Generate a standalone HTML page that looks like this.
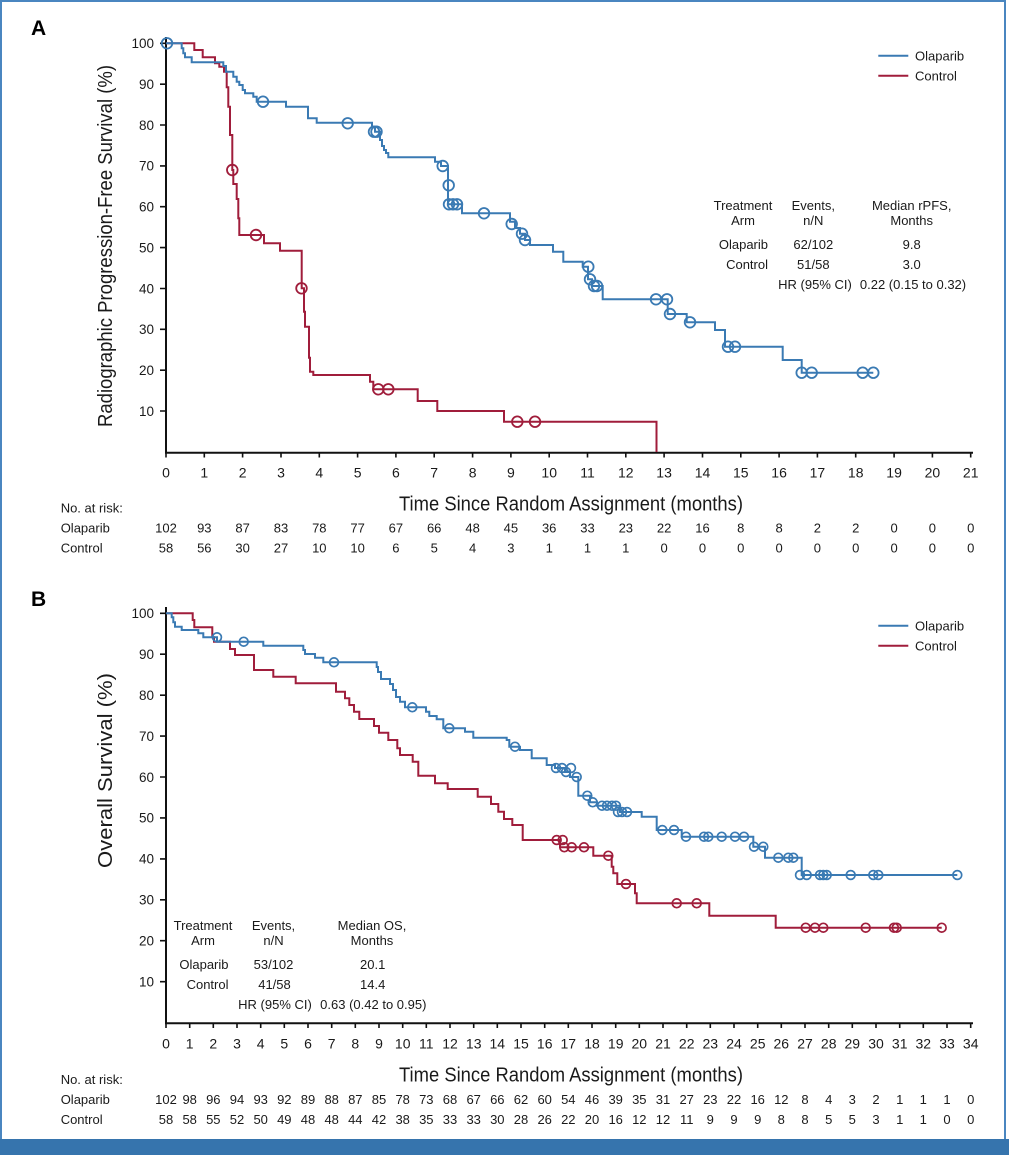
<!DOCTYPE html>
<html><head><meta charset="utf-8"><style>
html,body{margin:0;padding:0;background:#fff;}
svg{display:block;}
text{font-family:"Liberation Sans",Arial,sans-serif;fill:#1a1a1a;}
</style></head><body>
<svg width="1009" height="1155" viewBox="0 0 1009 1155" xmlns="http://www.w3.org/2000/svg">
<rect x="0" y="0" width="1009" height="1155" fill="#fff"/>
<rect x="1" y="1" width="1004" height="1140" fill="none" stroke="#4a86c0" stroke-width="2"/>
<rect x="0" y="1139" width="1009" height="16" fill="#3674ad"/>

<!-- ================= PANEL A ================= -->
<text x="31" y="35" font-size="21" font-weight="bold" style="fill:#000">A</text>

<!-- axes -->
<path d="M166 37 V452.7 H973" fill="none" stroke="#111" stroke-width="2"/>
<path d="M160 43.3H166M160 84.2H166M160 125H166M160 165.9H166M160 206.7H166M160 247.6H166M160 288.5H166M160 329.3H166M160 370.2H166M160 411H166" stroke="#111" stroke-width="1.6"/>
<path d="M166 452.7V457.5M204.3 452.7V457.5M242.6 452.7V457.5M281 452.7V457.5M319.3 452.7V457.5M357.6 452.7V457.5M395.9 452.7V457.5M434.2 452.7V457.5M472.6 452.7V457.5M510.9 452.7V457.5M549.2 452.7V457.5M587.5 452.7V457.5M625.8 452.7V457.5M664.1 452.7V457.5M702.5 452.7V457.5M740.8 452.7V457.5M779.1 452.7V457.5M817.4 452.7V457.5M855.7 452.7V457.5M894.1 452.7V457.5M932.4 452.7V457.5M970.7 452.7V457.5" stroke="#111" stroke-width="1.6"/>

<g font-size="13.5" text-anchor="end">
<text x="154" y="48.1">100</text><text x="154" y="89">90</text><text x="154" y="129.8">80</text><text x="154" y="170.7">70</text><text x="154" y="211.5">60</text><text x="154" y="252.4">50</text><text x="154" y="293.3">40</text><text x="154" y="334.1">30</text><text x="154" y="375">20</text><text x="154" y="415.8">10</text>
</g>
<g font-size="14" text-anchor="middle">
<text x="166" y="477.3">0</text><text x="204.3" y="477.3">1</text><text x="242.6" y="477.3">2</text><text x="281" y="477.3">3</text><text x="319.3" y="477.3">4</text><text x="357.6" y="477.3">5</text><text x="395.9" y="477.3">6</text><text x="434.2" y="477.3">7</text><text x="472.6" y="477.3">8</text><text x="510.9" y="477.3">9</text><text x="549.2" y="477.3">10</text><text x="587.5" y="477.3">11</text><text x="625.8" y="477.3">12</text><text x="664.1" y="477.3">13</text><text x="702.5" y="477.3">14</text><text x="740.8" y="477.3">15</text><text x="779.1" y="477.3">16</text><text x="817.4" y="477.3">17</text><text x="855.7" y="477.3">18</text><text x="894.1" y="477.3">19</text><text x="932.4" y="477.3">20</text><text x="970.7" y="477.3">21</text>
</g>
<text x="399" y="510.7" font-size="20" textLength="344" lengthAdjust="spacingAndGlyphs">Time Since Random Assignment (months)</text>
<text transform="translate(112,246) rotate(-90)" x="0" y="0" font-size="20" text-anchor="middle" textLength="362" lengthAdjust="spacingAndGlyphs">Radiographic Progression-Free Survival (%)</text>

<!-- legend A -->
<path d="M878.3 55.7H908.3" stroke="#3a7ab3" stroke-width="2"/>
<path d="M878.3 75.7H908.3" stroke="#a01d3b" stroke-width="2"/>
<text x="915" y="60.5" font-size="13">Olaparib</text>
<text x="915" y="80.3" font-size="13">Control</text>

<!-- table A -->
<g font-size="13" text-anchor="middle">
<text x="743" y="210">Treatment</text><text x="743" y="225">Arm</text>
<text x="813.3" y="210">Events,</text><text x="813.3" y="225">n/N</text>
<text x="911.7" y="210">Median rPFS,</text><text x="911.7" y="225">Months</text>
<text x="813.3" y="249">62/102</text><text x="911.7" y="249">9.8</text>
<text x="813.3" y="269">51/58</text><text x="911.7" y="269">3.0</text>
<text x="815" y="289">HR (95% CI)</text><text x="913" y="289">0.22 (0.15 to 0.32)</text>
</g>
<g font-size="13" text-anchor="end">
<text x="768" y="249">Olaparib</text><text x="768" y="269">Control</text>
</g>

<!-- curves A -->
<path fill="none" stroke="#a01d3b" stroke-width="2" d="M166,43.3 H194.3 V50 H202.7 V57.3 H215 V63.3 H219.3 V66.7 H224 V71.7 H226.7 V87.3 H228.3 V106.7 H230 V135 H232.3 V170 H233.3 V184 H236.7 V199 H238.3 V218.3 H239.3 V235 H264 V243.3 H280 V250.7 H301.7 V288.3 H304 V311.7 H305 V326.7 H309 V357.7 H310 V371.7 H313.3 V375 H370 V381.7 H373.3 V389.3 H417.7 V401 H437.3 V411 H504 V421.7 H656.5 V452"/>
<g fill="none" stroke="#a01d3b" stroke-width="1.8">
<circle cx="232.3" cy="170" r="5.3"/><circle cx="256" cy="235" r="5.3"/><circle cx="301.5" cy="288.3" r="5.3"/><circle cx="378.3" cy="389.3" r="5.3"/><circle cx="388.3" cy="389.3" r="5.3"/><circle cx="517.3" cy="421.7" r="5.3"/><circle cx="535" cy="421.7" r="5.3"/>
</g>
<path fill="none" stroke="#3a7ab3" stroke-width="2" d="M166,43.3 H181.7 V48.3 H183.3 V53.3 H185 V57.3 H191.7 V62.3 H223.3 V66 H226 V71.7 H233.3 V76.7 H236.7 V81.7 H239.3 V85 H242.7 V90 H245 V93.3 H253.3 V96.7 H256.7 V101.7 H286 V106.7 H308 V118.3 H316.7 V122.7 H372 V127 H375 V131.7 H380 V140 H382 V146 H384 V150 H386 V153 H388.3 V157.3 H435 V161.7 H441 V166 H448 V204.3 H462 V213.3 H510 V221.7 H515 V228 H520 V233.7 H525 V240 H530 V245 H553 V251.7 H563.3 V261.7 H582.7 V266.7 H588 V279.3 H592 V286 H602.7 V299.3 H667.7 V314 H686.7 V322.3 H715 V330 H725 V346.7 H782.7 V360 H801.7 V372.7 H873.3"/>
<g fill="none" stroke="#3a7ab3" stroke-width="1.8">
<circle cx="167" cy="43.3" r="5.3"/><circle cx="263" cy="101.7" r="5.3"/><circle cx="347.7" cy="123.3" r="5.3"/><circle cx="374" cy="131.7" r="5.3"/><circle cx="376.5" cy="131.7" r="5.3"/><circle cx="442.7" cy="166" r="5.3"/><circle cx="448.7" cy="185.3" r="5.3"/><circle cx="449" cy="204.3" r="5.3"/><circle cx="453" cy="204.3" r="5.3"/><circle cx="457" cy="204.3" r="5.3"/><circle cx="484" cy="213.3" r="5.3"/><circle cx="511.7" cy="224" r="5.3"/><circle cx="522" cy="233.7" r="5.3"/><circle cx="525" cy="240" r="5.3"/><circle cx="588.3" cy="266.7" r="5.3"/><circle cx="590" cy="279.3" r="5.3"/><circle cx="594" cy="286" r="5.3"/><circle cx="597" cy="286" r="5.3"/><circle cx="656" cy="299.3" r="5.3"/><circle cx="667" cy="299.3" r="5.3"/><circle cx="670" cy="314" r="5.3"/><circle cx="690" cy="322.3" r="5.3"/><circle cx="728" cy="346.7" r="5.3"/><circle cx="735" cy="346.7" r="5.3"/><circle cx="801.7" cy="372.7" r="5.3"/><circle cx="811.7" cy="372.7" r="5.3"/><circle cx="862.7" cy="372.7" r="5.3"/><circle cx="873.3" cy="372.7" r="5.3"/>
</g>

<!-- risk table A -->
<g font-size="13">
<text x="60.7" y="512.7">No. at risk:</text>
<text x="60.7" y="532.7">Olaparib</text>
<text x="60.7" y="552.7">Control</text>
</g>
<g font-size="13" text-anchor="middle">
<text x="166" y="532.7">102</text><text x="204.3" y="532.7">93</text><text x="242.6" y="532.7">87</text><text x="281" y="532.7">83</text><text x="319.3" y="532.7">78</text><text x="357.6" y="532.7">77</text><text x="395.9" y="532.7">67</text><text x="434.2" y="532.7">66</text><text x="472.6" y="532.7">48</text><text x="510.9" y="532.7">45</text><text x="549.2" y="532.7">36</text><text x="587.5" y="532.7">33</text><text x="625.8" y="532.7">23</text><text x="664.1" y="532.7">22</text><text x="702.5" y="532.7">16</text><text x="740.8" y="532.7">8</text><text x="779.1" y="532.7">8</text><text x="817.4" y="532.7">2</text><text x="855.7" y="532.7">2</text><text x="894.1" y="532.7">0</text><text x="932.4" y="532.7">0</text><text x="970.7" y="532.7">0</text>
<text x="166" y="552.7">58</text><text x="204.3" y="552.7">56</text><text x="242.6" y="552.7">30</text><text x="281" y="552.7">27</text><text x="319.3" y="552.7">10</text><text x="357.6" y="552.7">10</text><text x="395.9" y="552.7">6</text><text x="434.2" y="552.7">5</text><text x="472.6" y="552.7">4</text><text x="510.9" y="552.7">3</text><text x="549.2" y="552.7">1</text><text x="587.5" y="552.7">1</text><text x="625.8" y="552.7">1</text><text x="664.1" y="552.7">0</text><text x="702.5" y="552.7">0</text><text x="740.8" y="552.7">0</text><text x="779.1" y="552.7">0</text><text x="817.4" y="552.7">0</text><text x="855.7" y="552.7">0</text><text x="894.1" y="552.7">0</text><text x="932.4" y="552.7">0</text><text x="970.7" y="552.7">0</text>
</g>

<!-- ================= PANEL B ================= -->
<text x="31" y="606" font-size="21" font-weight="bold" style="fill:#000">B</text>

<path d="M166 607 V1023.3 H973" fill="none" stroke="#111" stroke-width="2"/>
<path d="M160 613.3H166M160 654.2H166M160 695.2H166M160 736.1H166M160 777H166M160 817.9H166M160 858.9H166M160 899.8H166M160 940.7H166M160 981.7H166" stroke="#111" stroke-width="1.6"/>
<path d="M166 1023.3V1028M189.7 1023.3V1028M213.3 1023.3V1028M237 1023.3V1028M260.7 1023.3V1028M284.3 1023.3V1028M308 1023.3V1028M331.7 1023.3V1028M355.3 1023.3V1028M379 1023.3V1028M402.7 1023.3V1028M426.3 1023.3V1028M450 1023.3V1028M473.7 1023.3V1028M497.3 1023.3V1028M521 1023.3V1028M544.7 1023.3V1028M568.3 1023.3V1028M592 1023.3V1028M615.7 1023.3V1028M639.3 1023.3V1028M663 1023.3V1028M686.7 1023.3V1028M710.3 1023.3V1028M734 1023.3V1028M757.7 1023.3V1028M781.3 1023.3V1028M805 1023.3V1028M828.7 1023.3V1028M852.3 1023.3V1028M876 1023.3V1028M899.7 1023.3V1028M923.3 1023.3V1028M947 1023.3V1028M970.7 1023.3V1028" stroke="#111" stroke-width="1.6"/>

<g font-size="13.5" text-anchor="end">
<text x="154" y="618.1">100</text><text x="154" y="659">90</text><text x="154" y="700">80</text><text x="154" y="740.9">70</text><text x="154" y="781.8">60</text><text x="154" y="822.7">50</text><text x="154" y="863.7">40</text><text x="154" y="904.6">30</text><text x="154" y="945.5">20</text><text x="154" y="986.5">10</text>
</g>
<g font-size="14" text-anchor="middle">
<text x="166" y="1048.3">0</text><text x="189.7" y="1048.3">1</text><text x="213.3" y="1048.3">2</text><text x="237" y="1048.3">3</text><text x="260.7" y="1048.3">4</text><text x="284.3" y="1048.3">5</text><text x="308" y="1048.3">6</text><text x="331.7" y="1048.3">7</text><text x="355.3" y="1048.3">8</text><text x="379" y="1048.3">9</text><text x="402.7" y="1048.3">10</text><text x="426.3" y="1048.3">11</text><text x="450" y="1048.3">12</text><text x="473.7" y="1048.3">13</text><text x="497.3" y="1048.3">14</text><text x="521" y="1048.3">15</text><text x="544.7" y="1048.3">16</text><text x="568.3" y="1048.3">17</text><text x="592" y="1048.3">18</text><text x="615.7" y="1048.3">19</text><text x="639.3" y="1048.3">20</text><text x="663" y="1048.3">21</text><text x="686.7" y="1048.3">22</text><text x="710.3" y="1048.3">23</text><text x="734" y="1048.3">24</text><text x="757.7" y="1048.3">25</text><text x="781.3" y="1048.3">26</text><text x="805" y="1048.3">27</text><text x="828.7" y="1048.3">28</text><text x="852.3" y="1048.3">29</text><text x="876" y="1048.3">30</text><text x="899.7" y="1048.3">31</text><text x="923.3" y="1048.3">32</text><text x="947" y="1048.3">33</text><text x="970.7" y="1048.3">34</text>
</g>
<text x="399" y="1081.7" font-size="20" textLength="344" lengthAdjust="spacingAndGlyphs">Time Since Random Assignment (months)</text>
<text transform="translate(112,770.5) rotate(-90)" x="0" y="0" font-size="20" text-anchor="middle" textLength="195" lengthAdjust="spacingAndGlyphs">Overall Survival (%)</text>

<!-- legend B -->
<path d="M878.3 625.7H908.3" stroke="#3a7ab3" stroke-width="2"/>
<path d="M878.3 645.7H908.3" stroke="#a01d3b" stroke-width="2"/>
<text x="915" y="630.5" font-size="13">Olaparib</text>
<text x="915" y="650.3" font-size="13">Control</text>

<!-- table B -->
<g font-size="13" text-anchor="middle">
<text x="203" y="930">Treatment</text><text x="203" y="945">Arm</text>
<text x="273.5" y="930">Events,</text><text x="273.5" y="945">n/N</text>
<text x="372" y="930">Median OS,</text><text x="372" y="945">Months</text>
<text x="273.5" y="969">53/102</text><text x="372.7" y="969">20.1</text>
<text x="274.5" y="989">41/58</text><text x="372.7" y="989">14.4</text>
<text x="275" y="1009">HR (95% CI)</text><text x="373.3" y="1009">0.63 (0.42 to 0.95)</text>
</g>
<g font-size="13" text-anchor="end">
<text x="228.5" y="969">Olaparib</text><text x="228.5" y="989">Control</text>
</g>

<!-- curves B -->
<path fill="none" stroke="#a01d3b" stroke-width="2" d="M166,613.3 H192.7 V620 H194.3 V627.3 H212.3 V637.3 H214 V641.7 H230 V649 H235 V655 H254 V670 H273.3 V676.7 H295.7 V683.3 H336 V691.7 H345 V698.3 H349.3 V705 H354 V711.7 H359.3 V719 H374 V726 H379 V732.7 H388.3 V740 H397.3 V748.3 H400 V755 H412.7 V761.7 H418.3 V775.7 H435 V783.3 H447.7 V789 H477.7 V796.7 H491 V804 H498.3 V811.7 H504 V819 H512.3 V825 H522.7 V840 H560 V847.3 H593.3 V855.7 H611.7 V866.7 H613.3 V873.3 H617.3 V884 H635 V893.3 H636.7 V903.3 H709.3 V915.7 H775.7 V927.7 H941.7"/>
<g fill="none" stroke="#a01d3b" stroke-width="1.7">
<circle cx="556.7" cy="840" r="4.4"/><circle cx="562.7" cy="840" r="4.4"/><circle cx="564.3" cy="847.3" r="4.4"/><circle cx="571.7" cy="847.3" r="4.4"/><circle cx="584" cy="847.3" r="4.4"/><circle cx="608.3" cy="855.7" r="4.4"/><circle cx="626" cy="884" r="4.4"/><circle cx="676.7" cy="903.3" r="4.4"/><circle cx="696.7" cy="903.3" r="4.4"/><circle cx="805.7" cy="927.7" r="4.4"/><circle cx="815" cy="927.7" r="4.4"/><circle cx="823.3" cy="927.7" r="4.4"/><circle cx="865.7" cy="927.7" r="4.4"/><circle cx="894" cy="927.7" r="4.4"/><circle cx="896.7" cy="927.7" r="4.4"/><circle cx="941.7" cy="927.7" r="4.4"/>
</g>
<path fill="none" stroke="#3a7ab3" stroke-width="2" d="M166,613.3 H171.7 V617.3 H173.3 V622.3 H175 V626.7 H181.7 V630 H198.3 V633.3 H203.3 V637.3 H217 V641.7 H263.3 V645.7 H303.3 V650 H305 V654 H315 V657.7 H323.3 V662.3 H376.7 V667 H378 V672 H381 V679 H390 V684 H393 V690 H396 V697 H400 V701.7 H405 V707.3 H426 V711.7 H429.3 V716 H436.7 V719.3 H443.3 V728.3 H465 V731.7 H473.3 V737.7 H506.7 V740 H509.3 V746.7 H520 V750 H531.7 V758.3 H546.7 V765 H555 V768 H565 V772 H570 V777 H578.3 V795.7 H590 V802.3 H597 V805.7 H620 V812 H641.7 V816.7 H656.7 V830 H681.7 V836.7 H753.3 V846.7 H765 V857.7 H801.7 V875 H957.3"/>
<g fill="none" stroke="#3a7ab3" stroke-width="1.7">
<circle cx="217" cy="637.3" r="4.4"/><circle cx="243.7" cy="641.7" r="4.4"/><circle cx="334" cy="662.3" r="4.4"/><circle cx="412.3" cy="707.3" r="4.4"/><circle cx="449.3" cy="728.3" r="4.4"/><circle cx="515" cy="746.7" r="4.4"/><circle cx="556" cy="768" r="4.4"/><circle cx="562" cy="768" r="4.4"/><circle cx="566" cy="772" r="4.4"/><circle cx="571" cy="768" r="4.4"/><circle cx="576.7" cy="777" r="4.4"/><circle cx="587.3" cy="795.7" r="4.4"/><circle cx="592.7" cy="802.3" r="4.4"/><circle cx="602" cy="805.7" r="4.4"/><circle cx="607" cy="805.7" r="4.4"/><circle cx="612" cy="805.7" r="4.4"/><circle cx="616" cy="805.7" r="4.4"/><circle cx="618" cy="812" r="4.4"/><circle cx="622" cy="812" r="4.4"/><circle cx="627" cy="812" r="4.4"/><circle cx="662.3" cy="830" r="4.4"/><circle cx="674" cy="830" r="4.4"/><circle cx="686" cy="836.7" r="4.4"/><circle cx="704" cy="836.7" r="4.4"/><circle cx="708.3" cy="836.7" r="4.4"/><circle cx="721.7" cy="836.7" r="4.4"/><circle cx="735" cy="836.7" r="4.4"/><circle cx="744" cy="836.7" r="4.4"/><circle cx="754" cy="846.7" r="4.4"/><circle cx="763.3" cy="846.7" r="4.4"/><circle cx="778.3" cy="857.7" r="4.4"/><circle cx="788.3" cy="857.7" r="4.4"/><circle cx="793.3" cy="857.7" r="4.4"/><circle cx="800" cy="875" r="4.4"/><circle cx="806.7" cy="875" r="4.4"/><circle cx="820" cy="875" r="4.4"/><circle cx="823.3" cy="875" r="4.4"/><circle cx="826.7" cy="875" r="4.4"/><circle cx="850.7" cy="875" r="4.4"/><circle cx="873.3" cy="875" r="4.4"/><circle cx="878.3" cy="875" r="4.4"/><circle cx="957.3" cy="875" r="4.4"/>
</g>

<!-- risk table B -->
<g font-size="13">
<text x="60.7" y="1084">No. at risk:</text>
<text x="60.7" y="1104">Olaparib</text>
<text x="60.7" y="1124">Control</text>
</g>
<g font-size="13" text-anchor="middle">
<text x="166" y="1104">102</text><text x="189.7" y="1104">98</text><text x="213.3" y="1104">96</text><text x="237" y="1104">94</text><text x="260.7" y="1104">93</text><text x="284.3" y="1104">92</text><text x="308" y="1104">89</text><text x="331.7" y="1104">88</text><text x="355.3" y="1104">87</text><text x="379" y="1104">85</text><text x="402.7" y="1104">78</text><text x="426.3" y="1104">73</text><text x="450" y="1104">68</text><text x="473.7" y="1104">67</text><text x="497.3" y="1104">66</text><text x="521" y="1104">62</text><text x="544.7" y="1104">60</text><text x="568.3" y="1104">54</text><text x="592" y="1104">46</text><text x="615.7" y="1104">39</text><text x="639.3" y="1104">35</text><text x="663" y="1104">31</text><text x="686.7" y="1104">27</text><text x="710.3" y="1104">23</text><text x="734" y="1104">22</text><text x="757.7" y="1104">16</text><text x="781.3" y="1104">12</text><text x="805" y="1104">8</text><text x="828.7" y="1104">4</text><text x="852.3" y="1104">3</text><text x="876" y="1104">2</text><text x="899.7" y="1104">1</text><text x="923.3" y="1104">1</text><text x="947" y="1104">1</text><text x="970.7" y="1104">0</text>
<text x="166" y="1124">58</text><text x="189.7" y="1124">58</text><text x="213.3" y="1124">55</text><text x="237" y="1124">52</text><text x="260.7" y="1124">50</text><text x="284.3" y="1124">49</text><text x="308" y="1124">48</text><text x="331.7" y="1124">48</text><text x="355.3" y="1124">44</text><text x="379" y="1124">42</text><text x="402.7" y="1124">38</text><text x="426.3" y="1124">35</text><text x="450" y="1124">33</text><text x="473.7" y="1124">33</text><text x="497.3" y="1124">30</text><text x="521" y="1124">28</text><text x="544.7" y="1124">26</text><text x="568.3" y="1124">22</text><text x="592" y="1124">20</text><text x="615.7" y="1124">16</text><text x="639.3" y="1124">12</text><text x="663" y="1124">12</text><text x="686.7" y="1124">11</text><text x="710.3" y="1124">9</text><text x="734" y="1124">9</text><text x="757.7" y="1124">9</text><text x="781.3" y="1124">8</text><text x="805" y="1124">8</text><text x="828.7" y="1124">5</text><text x="852.3" y="1124">5</text><text x="876" y="1124">3</text><text x="899.7" y="1124">1</text><text x="923.3" y="1124">1</text><text x="947" y="1124">0</text><text x="970.7" y="1124">0</text>
</g>
</svg>
</body></html>
